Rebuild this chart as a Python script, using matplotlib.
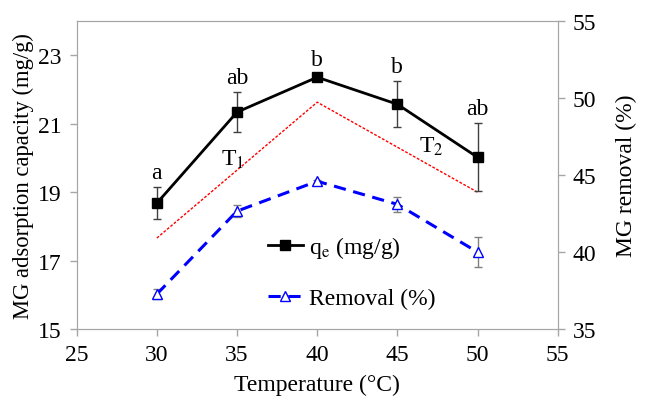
import matplotlib.pyplot as plt
from matplotlib.lines import Line2D

plt.rcParams["font.family"] = ["Liberation Serif", "DejaVu Serif"]
plt.rcParams["mathtext.fontset"] = "stix"

temperature = [30, 35, 40, 45, 50]
qe = [18.68, 21.34, 22.36, 21.57, 20.02]
qe_err = [0.47, 0.58, 0.08, 0.67, 1.0]
removal = [37.27, 42.66, 44.6, 43.1, 40.0]
removal_err = [0.3, 0.4, 0.1, 0.5, 1.0]
letters = ["a", "ab", "b", "b", "ab"]
trend_x = [30, 40, 50]
trend_y = [17.66, 21.63, 19.0]

spine_col = "#a6a6a6"
fs = 17

fig, ax = plt.subplots(figsize=(6.5, 4.02), dpi=100)
fig.subplots_adjust(left=0.118, right=0.858, top=0.945, bottom=0.179)
ax2 = ax.twinx()

# trend line (T1 / T2)
ax.plot(trend_x, trend_y, color="#ff0000", linestyle=(0, (2, 1.2)), linewidth=1.0, zorder=2)

ax.errorbar(temperature, qe, yerr=qe_err, color="black", marker="s", markersize=7,
            linewidth=2, ecolor="#404040", elinewidth=1, capsize=3, capthick=1, zorder=4)
ax2.errorbar(temperature, removal, yerr=removal_err, color="#0000ff", marker="^",
             markersize=7, markerfacecolor="white", markeredgecolor="#0000ff",
             linewidth=2.2, linestyle=(0, (4, 2.5)), ecolor="#808080", elinewidth=1,
             capsize=3, capthick=1, zorder=4)

for x, y, e, s in zip(temperature, qe, qe_err, letters):
    ax.text(x, y + e + 0.12, s, ha="center", va="bottom", fontsize=fs)

ax.text(34.7, 19.96, r"T$_1$", fontsize=fs, ha="center", va="center")
ax.text(47.1, 20.34, r"T$_2$", fontsize=fs, ha="center", va="center")

ax.set_xlim(25, 55)
ax.set_ylim(15, 24)
ax2.set_ylim(35, 55)
ax.set_xticks([25, 30, 35, 40, 45, 50, 55])
ax.set_yticks([15, 17, 19, 21, 23])
ax2.set_yticks([35, 40, 45, 50, 55])

for a in (ax, ax2):
    for sp in a.spines.values():
        sp.set_color(spine_col)
    a.tick_params(colors=spine_col, labelcolor="black", labelsize=fs, length=5, width=1, pad=6)

ax.set_xlabel("Temperature (°C)", fontsize=fs, labelpad=6)
ax.set_ylabel("MG adsorption capacity (mg/g)", fontsize=16.3, labelpad=3)
ax2.set_ylabel("MG removal (%)", fontsize=fs, labelpad=14)

handles = [
    Line2D([], [], color="black", marker="s", markersize=7, linewidth=2),
    Line2D([], [], color="#0000ff", marker="^", markersize=7, markerfacecolor="white",
           linewidth=2.2, linestyle=(0, (4, 2.5))),
]
ax2.legend(handles, [r"q$_\mathrm{e}$ (mg/g)", "Removal (%)"], loc="lower left",
           bbox_to_anchor=(0.397, 0.065), frameon=False, fontsize=fs, handlelength=1.5,
           labelspacing=1.15, handletextpad=0.25, borderpad=0, borderaxespad=0)

fig.savefig("out.png", dpi=100)
